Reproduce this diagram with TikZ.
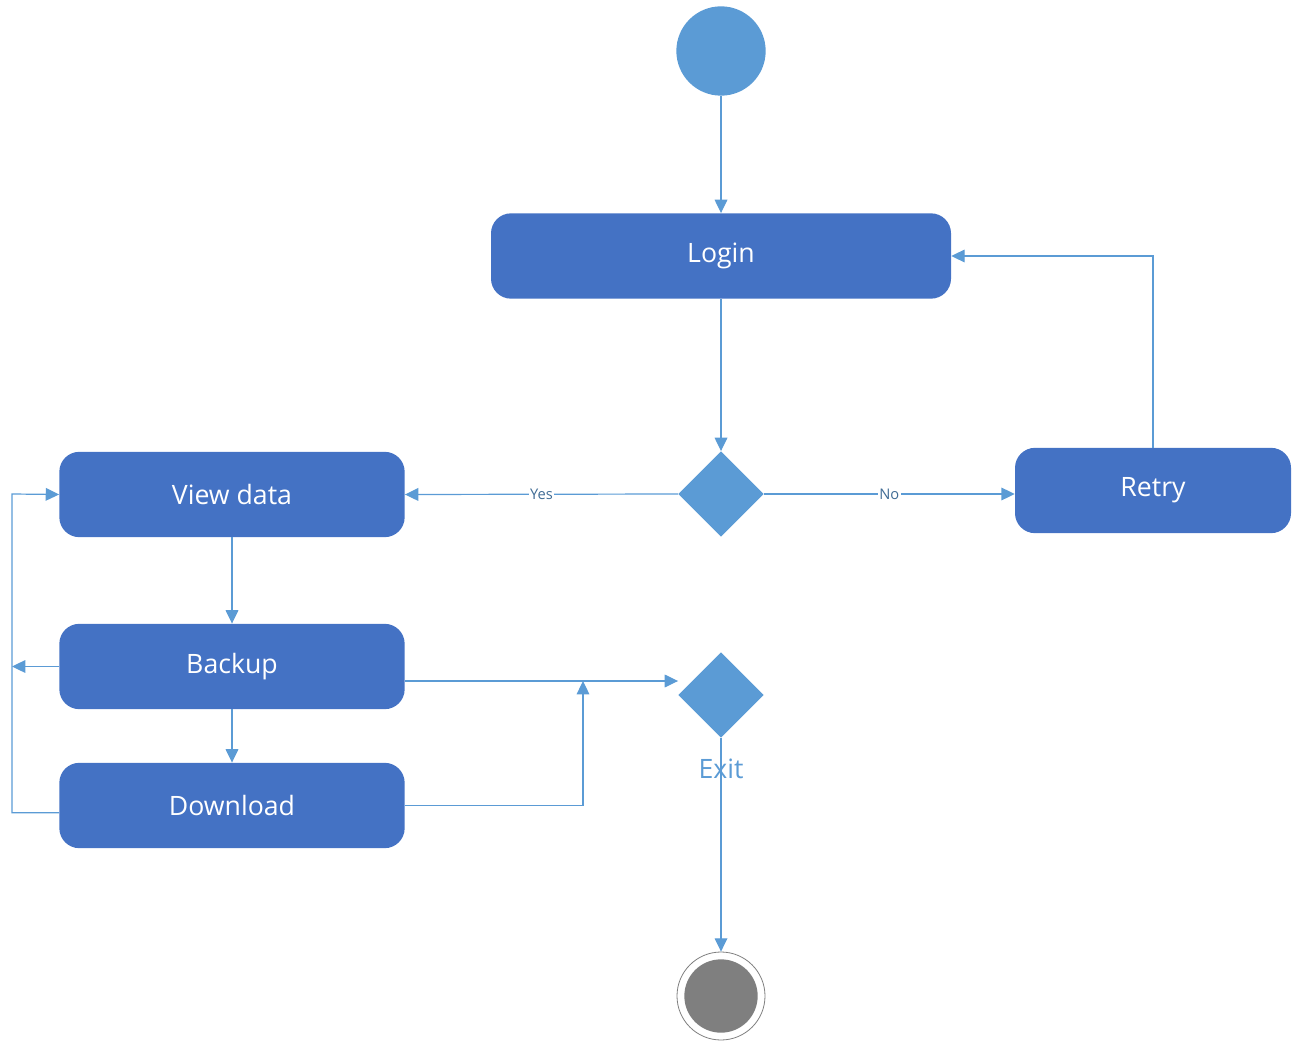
\documentclass[tikz,border=0pt]{standalone}
\usepackage{fontspec}
\setmainfont{Open Sans}
\usetikzlibrary{arrows.meta}
\usetikzlibrary{positioning}
\usetikzlibrary{shapes.geometric}
\definecolor{boxblue}{HTML}{4472C4}
\definecolor{lightblue}{HTML}{5B9BD5}
\definecolor{endgray}{HTML}{7F7F7F}
\tikzset{
  activity/.style={rectangle, rounded corners=15pt, fill=boxblue, text=white,
    minimum height=64pt, font=\fontsize{20}{24}\selectfont},
  decision/.style={diamond, fill=lightblue, minimum width=64pt, minimum height=64pt,
    inner sep=0pt},
  flow/.style={draw=lightblue, line width=0.9pt, -{Triangle[length=10pt, width=9.5pt]}},
  guard/.style={fill=white, text=lightblue!70!black, inner sep=1pt,
    font=\fontsize{11}{13}\selectfont},
}
\begin{document}
\begin{tikzpicture}[x=0.75pt, y=-0.75pt]
    \useasboundingbox (0,0) rectangle (1295,1041);
    % states
    \node[circle, fill=lightblue, minimum size=67pt] (start) at (721,51) {};
    \node[activity, minimum width=345pt] (login) at (721,256) {Login};
    \node[decision] (check) at (721,494) {};
    \node[activity, minimum width=259pt] (view) at (232,494.5) {View data};
    \node[activity, minimum width=207pt] (retry) at (1153,490.5) {Retry};
    \node[activity, minimum width=259pt] (backup) at (232,666.5) {Backup};
    \node[activity, minimum width=259pt] (download) at (232,805.5) {Download};
    \node[decision] (exit) at (721,695) {};
    \node[text=lightblue, font=\fontsize{20}{24}\selectfont] (exitlabel) at (721,769) {Exit};
    \node[circle, draw=endgray, line width=0.6pt, minimum size=66pt] (end) at (721,996) {};
    \node[circle, fill=endgray, minimum size=55pt] (endfill) at (end) {};
    \coordinate (rail) at (12,494);
    \coordinate (join) at (583,681);
    % transitions
    \draw[flow] (start) -- (login);
    \draw[flow] (login) -- (check);
    \draw[flow] (check.west) -- node[guard] {Yes} (view.east);
    \draw[flow] (check.east) -- node[guard] {No} (check.east -| retry.west);
    \draw[flow] (retry.north) |- (login.east);
    \draw[flow] (view) -- (backup);
    \draw[flow] (backup) -- (download);
    \draw[flow] (backup.west) -- (backup.west -| rail);
    \draw[flow] ([yshift=-5.5pt]download.west) -| (rail) -- (view.west);
    \draw[flow] (download.east) -| (join);
    \draw[flow] (backup.east |- join) -- (join -| exit.west);
    \draw[flow] (exit.south) -- (end.north);
  \end{tikzpicture}
\end{document}
